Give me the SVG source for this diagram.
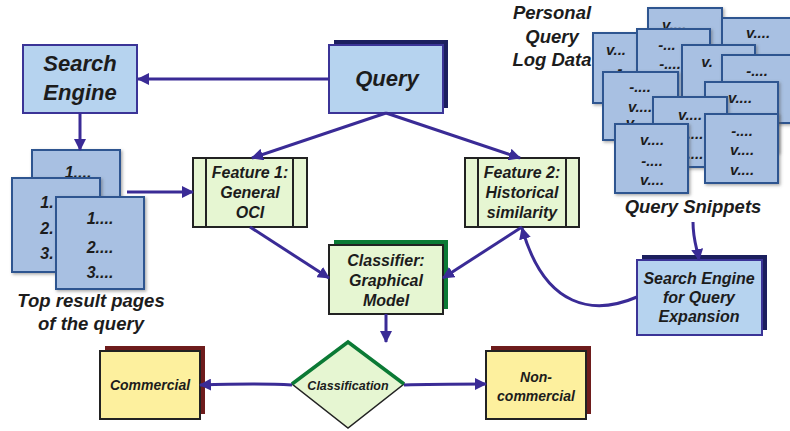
<svg xmlns="http://www.w3.org/2000/svg" width="790" height="431" viewBox="0 0 790 431">
<defs>
<marker id="ah" viewBox="0 0 12 12" refX="11" refY="6" markerWidth="12" markerHeight="12" markerUnits="userSpaceOnUse" orient="auto">
<path d="M0,0 L12,6 L0,12 z" fill="#3a2b96"/>
</marker>
<filter id="sh" x="-10%" y="-10%" width="125%" height="125%">
<feDropShadow dx="1.5" dy="1.5" stdDeviation="1.5" flood-color="#555" flood-opacity="0.5"/>
</filter>
</defs>
<style>
text{font-family:"Liberation Sans",Arial,sans-serif;font-weight:bold;font-style:italic;fill:#1c1c1c;text-anchor:middle}
.card{fill:#a8c0e2;stroke:#2d5590;stroke-width:2;filter:url(#sh)}
.blue{fill:#b6d3ef;stroke:#3b3497;stroke-width:2}
.green{fill:#e6f6d2;stroke:#222;stroke-width:2}
.yellow{fill:#fdf09e;stroke:#222;stroke-width:2}
.conn{fill:none;stroke:#3a2b96;stroke-width:3;marker-end:url(#ah)}
.t22{font-size:22px}
.t16{font-size:16px}
.t14{font-size:14px}
.t18{font-size:18.5px}
.tc{font-size:15px}
</style>

<g id="personal-label">
<text class="t18" x="552" y="19">Personal</text>
<text class="t18" x="552" y="43">Query</text>
<text class="t18" x="552" y="66">Log Data</text>
</g>

<g id="query-snippets">
<rect class="card" x="648" y="8" width="74" height="80"/>
<text class="tc" x="674" y="30">v....</text>
<rect class="card" x="722" y="18" width="75" height="60"/>
<text class="tc" x="758" y="38">v....</text>
<rect class="card" x="593" y="33" width="70" height="70"/>
<text class="tc" x="616" y="55">v...</text>
<text class="tc" x="620" y="74">-</text>
<rect class="card" x="637" y="29" width="73" height="70"/>
<text class="tc" x="667" y="50">-...</text>
<text class="tc" x="670" y="69">-....</text>
<rect class="card" x="682" y="45" width="73" height="70"/>
<text class="tc" x="707" y="67">v.</text>
<rect class="card" x="722" y="55" width="75" height="68"/>
<text class="tc" x="757" y="76">-....</text>
<rect class="card" x="603" y="72" width="75" height="68"/>
<text class="tc" x="640" y="92">-....</text>
<text class="tc" x="640" y="112">v....</text>
<text class="tc" x="630" y="128">v</text>
<rect class="card" x="705" y="82" width="73" height="70"/>
<text class="tc" x="740" y="103">v....</text>
<rect class="card" x="653" y="97" width="74" height="70"/>
<text class="tc" x="690" y="120">v....</text>
<text class="tc" x="695" y="139">....</text>
<text class="tc" x="695" y="159">....</text>
<rect class="card" x="615" y="124" width="73" height="69"/>
<text class="tc" x="652" y="145">v....</text>
<text class="tc" x="652" y="166">-....</text>
<text class="tc" x="652" y="185">v....</text>
<rect class="card" x="705" y="114" width="73" height="69"/>
<text class="tc" x="742" y="136">-....</text>
<text class="tc" x="742" y="155">v....</text>
<text class="tc" x="742" y="175">v....</text>
<text class="t18" x="693" y="213">Query Snippets</text>
</g>

<g id="search-engine">
<rect class="blue" x="23" y="45" width="114" height="68"/>
<text class="t22" x="80" y="71">Search</text>
<text class="t22" x="80" y="100">Engine</text>
</g>

<g id="query">
<rect x="334" y="40" width="114" height="68" fill="#1c1f5e"/>
<rect class="blue" x="329" y="45" width="114" height="68" stroke="#3a4592"/>
<text class="t22" x="387" y="86">Query</text>
</g>

<g id="result-pages">
<rect class="card" x="32" y="150" width="88" height="90"/>
<text class="t16" x="78" y="178">1....</text>
<rect class="card" x="12" y="178" width="88" height="94"/>
<text class="t16" x="47" y="208">1.</text>
<text class="t16" x="47" y="234">2.</text>
<text class="t16" x="47" y="259">3.</text>
<rect class="card" x="56" y="197" width="88" height="92"/>
<text class="t16" x="100" y="224">1....</text>
<text class="t16" x="100" y="253">2....</text>
<text class="t16" x="100" y="278">3....</text>
<text class="t18" x="91" y="307">Top result pages</text>
<text class="t18" x="91" y="330">of the query</text>
</g>

<g id="feature1">
<rect class="green" x="193" y="158" width="114" height="69"/>
<line x1="206" y1="158" x2="206" y2="227" stroke="#222" stroke-width="2"/>
<line x1="293" y1="158" x2="293" y2="227" stroke="#222" stroke-width="2"/>
<text class="t16" x="250" y="178">Feature 1:</text>
<text class="t16" x="250" y="198">General</text>
<text class="t16" x="250" y="218">OCI</text>
</g>

<g id="feature2">
<rect class="green" x="465" y="158" width="114" height="69"/>
<line x1="478" y1="158" x2="478" y2="227" stroke="#222" stroke-width="2"/>
<line x1="566" y1="158" x2="566" y2="227" stroke="#222" stroke-width="2"/>
<text class="t16" x="522" y="178">Feature 2:</text>
<text class="t16" x="522" y="198">Historical</text>
<text class="t16" x="522" y="218">similarity</text>
</g>

<g id="classifier">
<rect x="334" y="240" width="114" height="69" fill="#0b7a35"/>
<rect class="green" x="329" y="245" width="114" height="69"/>
<text class="t16" x="386" y="266">Classifier:</text>
<text class="t16" x="386" y="286">Graphical</text>
<text class="t16" x="386" y="306">Model</text>
</g>

<g id="classification">
<path d="M348,342 L404,384 L348,428 L292,384 z" fill="#e6f6d2" stroke="#222" stroke-width="1.5"/>
<path d="M292,384 L348,342 L404,384" fill="none" stroke="#0b7a35" stroke-width="3.5"/>
<text x="348" y="390" font-size="12.5px">Classification</text>
</g>

<g id="commercial">
<rect x="105" y="346" width="100" height="68" fill="#6e1c1c"/>
<rect class="yellow" x="100" y="351" width="100" height="68"/>
<text class="t14" x="150" y="390">Commercial</text>
</g>

<g id="non-commercial">
<rect x="491" y="346" width="100" height="68" fill="#6e1c1c"/>
<rect class="yellow" x="486" y="351" width="100" height="68"/>
<text class="t14" x="536" y="382">Non-</text>
<text class="t14" x="536" y="401">commercial</text>
</g>

<g id="search-engine-expansion">
<rect x="642" y="255" width="125" height="75" fill="#1c1f5e"/>
<rect class="blue" x="637" y="260" width="125" height="75"/>
<text class="t16" x="699" y="284">Search Engine</text>
<text class="t16" x="699" y="303">for Query</text>
<text class="t16" x="699" y="322">Expansion</text>
</g>

<g id="connectors">
<path class="conn" d="M329,79 L138,79"/>
<path class="conn" d="M80,113 L80,150"/>
<path class="conn" d="M127,192 L193,192"/>
<path class="conn" d="M386,113 L252,158"/>
<path class="conn" d="M386,113 L520,158"/>
<path class="conn" d="M250,227 L329,278"/>
<path class="conn" d="M522,227 L443,278"/>
<path class="conn" d="M386,314 L386,342"/>
<path class="conn" d="M292,385 C260,383 230,384 200,385"/>
<path class="conn" d="M404,385 C430,384 460,384 486,384"/>
<path class="conn" d="M693,222 C693,240 697,248 699,260"/>
<path class="conn" d="M637,297 C595,315 545,310 522,228"/>
</g>
</svg>
